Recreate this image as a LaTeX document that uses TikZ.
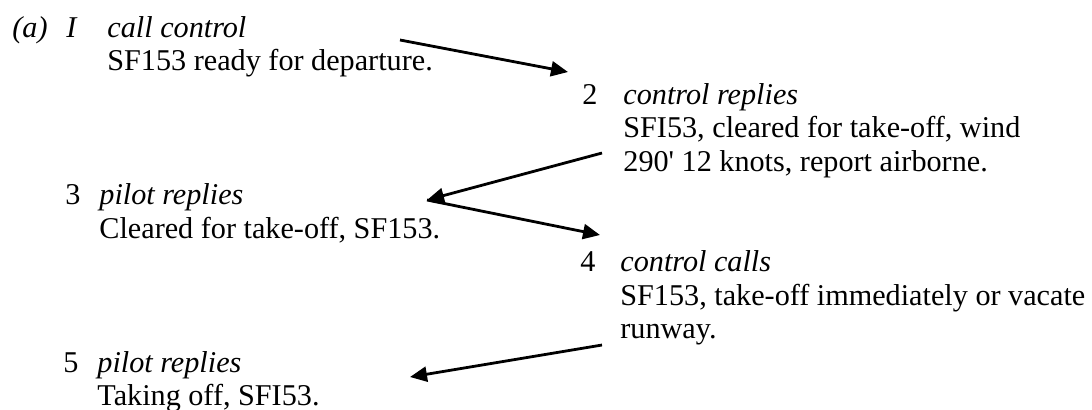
\documentclass[tikz,border=0pt]{standalone}
\usepackage{fontspec}
\setmainfont{Liberation Serif}
\usetikzlibrary{arrows.meta,positioning,calc}
\newcommand\stepmsg[2]{\begin{tabular}[t]{@{}l@{}}\textit{#1}\\#2\end{tabular}}
\tikzset{
  txt/.style={anchor=base west, inner sep=0pt,
              font=\fontsize{15.1}{16.75}\selectfont},
  num/.style={txt},
  sig/.style={-{Triangle[length=8.5pt,width=7.5pt]}, line width=1.4pt},
}
\begin{document}
\begin{tikzpicture}[x=0.5pt,y=-0.5pt]
    \useasboundingbox (0,0) rectangle (1092,409);
    \node[txt] (lbl) at (12,37) {\textit{(a)}};
    \node[num] (n1) at (66,37) {\textit{I}};
    \node[txt] (m1) at (107,37) {\stepmsg{call control}{SF153 ready for departure.}};
    \node[num] (n2) at (582,104) {2};
    \node[txt] (m2) at (623,104) {\stepmsg{control replies}{SFI53, cleared for take-off, wind\\
      290\textquotesingle{} 12 knots, report airborne.}};
    \node[num] (n3) at (65,204.5) {3};
    \node[txt] (m3) at (99,204.5) {\stepmsg{pilot replies}{Cleared for take-off, SF153.}};
    \node[num] (n4) at (580,271.5) {4};
    \node[txt] (m4) at (620,271.5) {\stepmsg{control calls}{SF153, take-off immediately or vacate\\runway.}};
    \node[num] (n5) at (63,372) {5};
    \node[txt] (m5) at (97,372) {\stepmsg{pilot replies}{Taking off, SFI53.}};
    \coordinate (s1) at (400,40);
    \coordinate (e1) at (568,72);
    \coordinate (s2) at (602,153);
    \coordinate (e2) at (427,200);
    \coordinate (e3) at (600,235);
    \coordinate (s4) at (602,345);
    \coordinate (e4) at (410,377);
    \draw[sig] (s1)--(e1); \draw[sig] (s2)--(e2);
    \draw[sig] (e2)--(e3); \draw[sig] (s4)--(e4);
  \end{tikzpicture}
\end{document}
